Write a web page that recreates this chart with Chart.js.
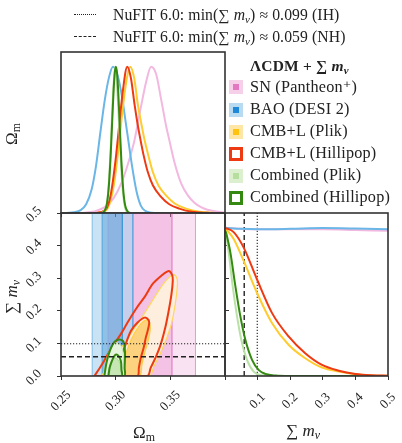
<!DOCTYPE html>
<html>
<head>
<meta charset="utf-8">
<script src="https://cdn.jsdelivr.net/npm/chart.js@4.4.1/dist/chart.umd.min.js"></script>
<style>
  body { margin: 0; background: #fff; }
  #wrap { position: relative; width: 402px; height: 443px; overflow: hidden;
          font-family: "Liberation Serif", "DejaVu Serif", serif; color: #222; }
  canvas { position: absolute; left: 0; top: 0; }
  .t { position: absolute; white-space: nowrap; line-height: 1; }
  .hdr { font-size: 15.7px; letter-spacing: 0.1px; }
  .smp { position: absolute; width: 22px; height: 0; }
  .leg { font-size: 16.2px; letter-spacing: 0.2px; }
  .ttl { font-size: 15.5px; letter-spacing: 0.2px; font-weight: bold; }
  .ico { position: absolute; width: 14px; height: 14px; box-sizing: border-box; }
  .ico i { position: absolute; left: 4px; top: 4px; width: 6px; height: 6px; }
  .lab { font-size: 17px; }
  sub { font-size: 0.7em; vertical-align: -0.25em; font-style: normal; }
</style>
</head>
<body>
<div id="wrap">
  <canvas id="top" width="402" height="443"></canvas>
  <canvas id="mid" width="402" height="443"></canvas>
  <canvas id="side" width="402" height="443"></canvas>

  <div class="smp" style="left:74px;top:14px;border-top:1.3px dotted #222;"></div>
  <div class="t hdr" style="left:113px;top:7px;">NuFIT 6.0: min(∑ <i>m</i><sub><i>ν</i></sub>) ≈ 0.099 (IH)</div>
  <div class="smp" style="left:74px;top:36px;border-top:1.4px dashed #222;"></div>
  <div class="t hdr" style="left:113px;top:29px;">NuFIT 6.0: min(∑ <i>m</i><sub><i>ν</i></sub>) ≈ 0.059 (NH)</div>

  <div class="t ttl" style="left:250px;top:58px;">ΛCDM + ∑ <i>m</i><sub><i>ν</i></sub></div>
  <div id="legend"></div>

  <div class="t lab" style="left:2px;top:124px;transform:rotate(-90deg);transform-origin:50% 50%;">Ω<sub>m</sub></div>
  <div class="t lab" style="left:-4px;top:287px;transform:rotate(-90deg);transform-origin:50% 50%;">∑ <i>m</i><sub><i>ν</i></sub></div>
  <div class="t lab" style="left:133px;top:424px;">Ω<sub>m</sub></div>
  <div class="t lab" style="left:286px;top:422px;">∑ <i>m</i><sub><i>ν</i></sub></div>
</div>

<script>
// ---------- data ----------
const omTicks = [0.25, 0.30, 0.35];
const mnuTicks = [0.0, 0.1, 0.2, 0.3, 0.4, 0.5];
const mnuTicksSide = [0.1, 0.2, 0.3, 0.4, 0.5];
const nufitIH = 0.099;
const nufitNH = 0.059;

const legendNames = ['SN (Pantheon⁺)', 'BAO (DESI 2)', 'CMB+L (Plik)', 'CMB+L (Hillipop)', 'Combined (Plik)', 'Combined (Hillipop)'];

// 1D posteriors of Omega_m, [Omega_m, P/Pmax]
const snOm = [[0.270,0],[0.280,0.01],[0.290,0.04],[0.298,0.10],[0.305,0.20],[0.311,0.33],[0.317,0.49],[0.323,0.72],[0.328,0.90],[0.3324,1.0],[0.337,0.95],[0.3415,0.78],[0.346,0.60],[0.349,0.50],[0.354,0.34],[0.360,0.20],[0.366,0.12],[0.372,0.07],[0.378,0.04],[0.384,0.022],[0.392,0.01],[0.400,0.004]];
const baoOm = [[0.255,0],[0.262,0.005],[0.268,0.02],[0.273,0.06],[0.278,0.16],[0.282,0.32],[0.286,0.55],[0.290,0.77],[0.294,0.93],[0.2975,1.0],[0.301,0.96],[0.305,0.83],[0.309,0.63],[0.3115,0.50],[0.315,0.32],[0.319,0.15],[0.323,0.05],[0.327,0.015],[0.333,0.002],[0.340,0]];
const plikOm = [[0.281,0],[0.287,0.005],[0.2925,0.03],[0.2955,0.09],[0.2985,0.20],[0.3015,0.37],[0.3045,0.58],[0.3075,0.78],[0.3105,0.93],[0.3133,1.0],[0.317,0.92],[0.3203,0.74],[0.3235,0.61],[0.3264,0.50],[0.330,0.39],[0.334,0.28],[0.339,0.19],[0.346,0.12],[0.354,0.065],[0.3643,0.03],[0.3764,0.008],[0.390,0.001]];
const hilliOm = [[0.280,0],[0.286,0.005],[0.2915,0.03],[0.2945,0.09],[0.2975,0.22],[0.3005,0.40],[0.3035,0.62],[0.3065,0.83],[0.3106,1.0],[0.314,0.92],[0.3173,0.74],[0.320,0.61],[0.3227,0.50],[0.326,0.38],[0.3294,0.28],[0.334,0.19],[0.3415,0.11],[0.349,0.06],[0.3582,0.03],[0.370,0.008],[0.385,0.001]];
const combPOm = [[0.287,0],[0.2912,0.04],[0.2932,0.15],[0.2952,0.40],[0.2972,0.75],[0.2995,1.0],[0.3018,0.80],[0.3038,0.50],[0.3058,0.22],[0.3078,0.07],[0.3100,0.01],[0.3125,0]];
const combHOm = [[0.2872,0],[0.2892,0.007],[0.2912,0.037],[0.2922,0.073],[0.2932,0.135],[0.2942,0.23],[0.2952,0.36],[0.2962,0.52],[0.2972,0.69],[0.2982,0.85],[0.2992,0.96],[0.3002,1.0],[0.3012,0.96],[0.3022,0.85],[0.3032,0.69],[0.3042,0.52],[0.3052,0.36],[0.3062,0.23],[0.3072,0.135],[0.3082,0.073],[0.3092,0.037],[0.3112,0.007],[0.3132,0]];

// 1D posteriors of sum m_nu, [sum m_nu, P/Pmax]
const snMnu = [[0,1],[0.1,0.99],[0.2,0.99],[0.3,0.99],[0.4,0.985],[0.5,0.98]];
const baoMnu = [[0,1],[0.05,0.993],[0.1,0.99],[0.2,0.993],[0.3,0.998],[0.4,0.995],[0.5,0.99]];
const plikMnu = [[0,1],[0.0266,0.925],[0.057,0.778],[0.098,0.562],[0.144,0.358],[0.195,0.211],[0.246,0.12],[0.2975,0.057],[0.349,0.03],[0.40,0.012],[0.45,0.004],[0.5,0.001]];
const hilliMnu = [[0,1],[0.0266,0.971],[0.057,0.868],[0.098,0.653],[0.144,0.426],[0.195,0.267],[0.246,0.154],[0.2975,0.075],[0.349,0.036],[0.40,0.014],[0.45,0.005],[0.5,0.002]];
const combPMnu = [[0,1],[0.0113,0.834],[0.0235,0.608],[0.0368,0.404],[0.05,0.245],[0.0675,0.109],[0.088,0.03],[0.113,0.005],[0.15,0],[0.5,0]];
const combHMnu = [[0,1],[0.0164,0.834],[0.0317,0.608],[0.047,0.404],[0.0624,0.245],[0.083,0.109],[0.103,0.041],[0.124,0.014],[0.154,0.003],[0.2,0],[0.5,0]];

// Omega_m-only probes in the 2D panel: [lo, hi]
const sn95 = [0.293, 0.373], sn68 = [0.3157, 0.3515];
const bao95 = [0.2785, 0.3157], bao68 = [0.2876, 0.3061];

// 2D contours, [Omega_m, sum m_nu]
const plik95 = [[0.2870,0],[0.2930,0.030],[0.3000,0.065],[0.3080,0.100],[0.3160,0.140],[0.3240,0.180],[0.3325,0.225],[0.3410,0.270],[0.3475,0.298],[0.3530,0.311],[0.3560,0.300],[0.3565,0.280],[0.3545,0.220],[0.3510,0.160],[0.3465,0.115],[0.3410,0.070],[0.3350,0.030],[0.3310,0]];
const plik68 = [[0.3040,0],[0.3075,0.045],[0.3115,0.090],[0.3170,0.130],[0.3230,0.160],[0.3280,0.172],[0.3310,0.165],[0.3315,0.140],[0.3295,0.105],[0.3265,0.070],[0.3240,0.035],[0.3220,0]];
const hilli95 = [[0.2806,0],[0.2870,0.033],[0.2927,0.066],[0.2990,0.100],[0.3050,0.130],[0.3110,0.165],[0.3190,0.208],[0.3270,0.245],[0.3340,0.283],[0.3420,0.308],[0.3470,0.320],[0.3495,0.321],[0.3518,0.308],[0.3522,0.290],[0.3510,0.250],[0.3485,0.200],[0.3455,0.150],[0.3415,0.100],[0.3370,0.060],[0.3320,0.025],[0.3290,0]];
const hilli68 = [[0.3003,0],[0.3034,0.045],[0.3079,0.086],[0.3139,0.138],[0.3200,0.164],[0.3264,0.179],[0.3300,0.172],[0.3306,0.160],[0.3290,0.135],[0.3275,0.117],[0.3255,0.085],[0.3230,0.056],[0.3212,0.025],[0.3200,0]];
const combP95 = [[0.2890,0],[0.2902,0.030],[0.2920,0.055],[0.2945,0.078],[0.2975,0.095],[0.3005,0.102],[0.3035,0.098],[0.3060,0.085],[0.3072,0.060],[0.3075,0.030],[0.3074,0]];
const combP68 = [[0.2928,0],[0.2938,0.025],[0.2958,0.043],[0.2990,0.055],[0.3015,0.052],[0.3040,0.038],[0.3048,0.018],[0.3050,0]];
const combH95 = [[0.2897,0],[0.2910,0.030],[0.2927,0.056],[0.2950,0.080],[0.2973,0.097],[0.3000,0.108],[0.3034,0.112],[0.3065,0.108],[0.3079,0.097],[0.3085,0.075],[0.3085,0.056],[0.3082,0.025],[0.3079,0]];
const combH68 = [[0.2934,0],[0.2945,0.025],[0.2964,0.045],[0.2985,0.060],[0.3003,0.066],[0.3025,0.062],[0.3048,0.045],[0.3053,0.020],[0.3055,0]];

// ---------- styling ----------
const col = {
  sn: '#f3b8e0', bao: '#6ab6e6', plik: '#ffcb2e', hilli: '#ee3a12', combP: '#b9e1a6', combH: '#348a10'
};
const W = 402, H = 443;
const pts = a => a.map(([x, y]) => ({ x, y }));

const curve = (a, c, w = 2) => ({ data: pts(a), borderColor: c, borderWidth: w, fill: false, cubicInterpolationMode: 'monotone' });
const band = (r, fillCol, edge) => ({
  data: pts([[r[0], 0], [r[0], 0.5], [r[1], 0.5], [r[1], 0], [r[0], 0]]),
  fill: 'shape', backgroundColor: fillCol, borderColor: edge, borderWidth: 1, tension: 0
});
const shape = (a, fillCol, edge, w) => ({
  data: pts([...a, a[0]]), fill: fillCol ? 'shape' : false,
  backgroundColor: fillCol || 'transparent', borderColor: edge, borderWidth: w, tension: 0.3
});
const hline = (y, x0, x1, dash, w) => ({ data: pts([[x0, y], [x1, y]]), borderColor: '#222', borderWidth: w, borderDash: dash, fill: false });
const vline = (x, y0, y1, dash, w) => ({ data: pts([[x, y0], [x, y1]]), borderColor: '#333', borderWidth: w, borderDash: dash, fill: false });

// frame around each panel
const framePlugin = {
  id: 'frame',
  afterDatasetsDraw(chart) {
    const { ctx, chartArea: a } = chart;
    ctx.save();
    ctx.strokeStyle = '#333';
    ctx.lineWidth = 1.6;
    ctx.strokeRect(a.left, a.top, a.right - a.left, a.bottom - a.top);
    ctx.restore();
  }
};

// 45 degree tick labels, centred like matplotlib
const rotTicks = {
  id: 'rotTicks',
  afterDraw(chart, args, opts) {
    const ctx = chart.ctx;
    (opts.sets || []).forEach(set => {
      const scale = chart.scales[set.axis];
      ctx.save();
      ctx.font = '13px "Liberation Serif"';
      ctx.fillStyle = '#222';
      ctx.textAlign = 'center';
      ctx.textBaseline = 'middle';
      set.values.forEach(v => {
        const p = scale.getPixelForValue(v);
        const x = set.axis === 'x' ? p : set.at;
        const y = set.axis === 'x' ? set.at : p + 1.5;
        ctx.save();
        ctx.translate(x, y);
        ctx.rotate(-Math.PI / 4);
        ctx.fillText(v.toFixed(set.digits), 0, 0);
        ctx.restore();
      });
      ctx.restore();
    });
  }
};

function tickAxis(pos, min, max, values) {
  const horiz = pos === 'bottom' || pos === 'top';
  return {
    type: 'linear', position: pos, min, max,
    afterFit: s => { if (horiz) s.height = 0; else s.width = 0; },
    afterBuildTicks: s => { s.ticks = values.map(v => ({ value: v })); },
    ticks: { display: false },
    grid: { drawOnChartArea: false, drawTicks: true, tickLength: 4, color: '#333', lineWidth: 1 },
    border: { display: false }
  };
}

function panel(id, area, scales, datasets, sets) {
  datasets.forEach((d, i, a) => { d.order = a.length - i; d.pointRadius = 0; });
  return new Chart(document.getElementById(id), {
    type: 'line',
    data: { datasets },
    options: {
      responsive: false, animation: false, devicePixelRatio: 1,
      layout: { padding: { left: area[0], top: area[1], right: W - area[2], bottom: H - area[3] } },
      scales,
      plugins: { legend: { display: false }, tooltip: { enabled: false }, rotTicks: { sets } }
    },
    plugins: [framePlugin, rotTicks]
  });
}

// top-left: Omega_m 1D
panel('top', [61, 52, 225, 213], {
  x: tickAxis('bottom', 0.25, 0.40, omTicks),
  y: { type: 'linear', display: false, min: 0, max: 1.1 }
}, [
  curve(snOm, col.sn),
  curve(baoOm, col.bao),
  curve(plikOm, col.plik),
  curve(hilliOm, col.hilli),
  curve(combPOm, col.combP),
  curve(combHOm, col.combH)
], []);

// bottom-left: Omega_m vs sum m_nu
panel('mid', [61, 213, 225, 376], {
  x: tickAxis('bottom', 0.25, 0.40, omTicks),
  y: tickAxis('left', 0, 0.5, mnuTicks),
  y2: tickAxis('right', 0, 0.5, mnuTicks.slice(1, 5))
}, [
  band(sn95, 'rgba(227,119,194,0.21)', 'rgba(227,119,194,0.35)'),
  band(sn68, 'rgba(227,119,194,0.30)', 'rgba(227,119,194,0.45)'),
  band(bao95, 'rgba(90,170,225,0.33)', 'rgba(90,170,225,0.7)'),
  band(bao68, 'rgba(50,140,210,0.38)', 'rgba(60,150,215,0.75)'),
  shape(plik95, '#fdeedd', '#ffd75c', 1.2),
  shape(plik68, '#fdd27e', '#ffcf4a', 1.2),
  shape(hilli95, null, col.hilli, 2),
  shape(hilli68, null, col.hilli, 2),
  shape(combP95, '#e6f4dd', '#c4e6b2', 1),
  shape(combP68, '#c6e6b4', '#a9d892', 1),
  shape(combH95, null, col.combH, 2),
  shape(combH68, null, col.combH, 2),
  hline(nufitIH, 0.25, 0.40, [1.2, 1.8], 1.2),
  hline(nufitNH, 0.25, 0.40, [5, 3], 1.5)
], [
  { axis: 'x', values: omTicks, at: 401, digits: 2 },
  { axis: 'y', values: mnuTicks, at: 34, digits: 1 }
]);

// bottom-right: sum m_nu 1D
panel('side', [225, 213, 388, 376], {
  x: tickAxis('bottom', 0, 0.5, mnuTicks),
  y: { type: 'linear', display: false, min: 0, max: 1.1 }
}, [
  vline(nufitNH, 0, 1.1, [5, 3], 1.5),
  vline(nufitIH, 0, 1.1, [1.2, 1.8], 1.2),
  curve(snMnu, col.sn),
  curve(baoMnu, col.bao),
  curve(combPMnu, col.combP),
  curve(combHMnu, col.combH),
  curve(plikMnu, col.plik),
  curve(hilliMnu, col.hilli)
], [
  { axis: 'x', values: mnuTicksSide, at: 401, digits: 1 }
]);

// legend (html)
const icons = [
  { outer: '#f6cfe9', inner: '#e377c2' },
  { outer: '#b9dbf2', inner: '#1f88d8' },
  { outer: '#fde6a6', inner: '#ffc20e' },
  { border: col.hilli },
  { outer: '#dcf0d0', inner: '#b6df9f' },
  { border: col.combH }
];
const rowY = [87, 109.5, 131.5, 153.5, 175.5, 197.5];
const leg = document.getElementById('legend');
legendNames.forEach((name, i) => {
  const ic = icons[i];
  const box = document.createElement('div');
  box.className = 'ico';
  box.style.left = '229px';
  box.style.top = (rowY[i] - 7) + 'px';
  if (ic.border) {
    box.style.border = '3px solid ' + ic.border;
    box.style.background = '#fff';
  } else {
    box.style.background = ic.outer;
    const inn = document.createElement('i');
    inn.style.background = ic.inner;
    box.appendChild(inn);
  }
  leg.appendChild(box);
  const t = document.createElement('div');
  t.className = 't leg';
  t.style.left = '250px';
  t.style.top = (rowY[i] - 8.5) + 'px';
  t.textContent = name;
  leg.appendChild(t);
});
</script>
</body>
</html>
